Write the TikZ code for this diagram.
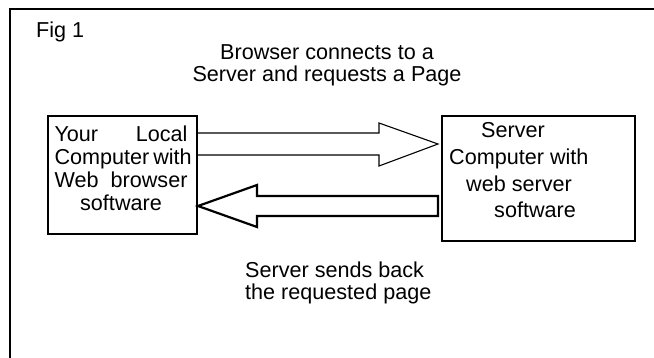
\documentclass[tikz,border=0pt]{standalone}
\usepackage{fontspec}
\setmainfont{Liberation Sans}
\usetikzlibrary{calc}

\tikzset{
  frameline/.style={line width=2.2pt},
  boxline/.style={draw, line width=2pt, inner sep=0pt},
  txt/.style={font=\fontsize{21.6}{22.5}\selectfont, inner sep=0pt},
  reqarrow/.style={line width=1.1pt},
  backarrow/.style={line width=2.2pt},
}

\begin{document}
\begin{tikzpicture}[x=1pt,y=-1pt]
\useasboundingbox (0,0) rectangle (654,358);

% open frame
\draw[frameline] (10,358) -- (10,9) -- (654,9);

\node[boxline, minimum width=149, minimum height=118] (local) at (122.5,175) {};
\node[boxline, minimum width=193, minimum height=125] (server) at (538.5,178.5) {};

% multi-line nodes sit on their last baseline
\node[txt, anchor=base west] (fig) at (36,38) {Fig 1};
\node[txt, align=center, anchor=base] (req) at (327,82) {Browser connects to a\\Server and requests a Page};
\node[txt, align=left, anchor=base west] (back) at (245,300) {Server sends back\\the requested page};

\node[txt, align=center, anchor=base, font=\fontsize{21.6}{23}\selectfont] (localtxt) at (121,211)
  {\makebox[133pt][s]{Your Local}\\\makebox[133pt][s]{Computer with}\\\makebox[133pt][s]{Web browser}\\software};
\node[txt, align=left, anchor=base west, font=\fontsize{21.6}{26.7}\selectfont] (servertxt) at (449,218)
  {\hspace*{32pt}Server\\Computer with\\\hspace*{17pt}web server\\\hspace*{45pt}software};

\coordinate (reqtip) at (438,144);
\coordinate (backtip) at (198,206);

\draw[reqarrow] ($(local.east)+(0,-42)$) -- (379,133) -- (379,123) -- (reqtip)
  -- (379,166) -- (379,155) -- ($(local.east)+(0,-20)$);
\draw[backarrow] ($(server.west)+(-3,17.5)$) -- (257,196) -- (257,185) -- (backtip)
  -- (257,227) -- (257,216) -- ($(server.west)+(-3,37.5)$) -- cycle;
\end{tikzpicture}
\end{document}
